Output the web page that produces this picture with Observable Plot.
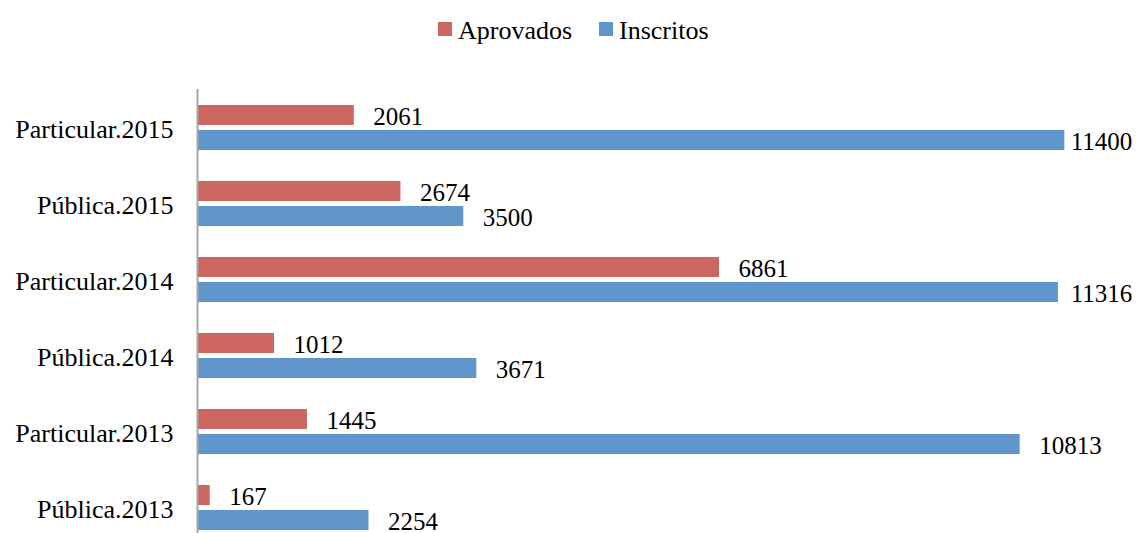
<!DOCTYPE html>
<html>
<head>
<meta charset="utf-8">
<script src="https://cdn.jsdelivr.net/npm/d3@7"></script>
<script src="https://cdn.jsdelivr.net/npm/@observablehq/plot@0.6"></script>
<style>
  html, body { margin: 0; padding: 0; background: #fff; overflow: hidden; }
  body { width: 1141px; height: 533px; font-family: "Liberation Serif", "Times New Roman", serif; }
  #legend { height: 60px; position: relative; }
  .item { position: absolute; top: 0; display: flex; align-items: center; height: 57px; font-size: 26px; color: #000; font-family: "Liberation Serif", "Times New Roman", serif; }
  .sw { width: 14px; height: 14px; margin-right: 6px; }
  .lt { position: relative; top: 2px; }
  svg { display: block; }
</style>
</head>
<body>
<div id="legend"></div>
<div id="chart"></div>
<script>
const categories = ["Particular.2015", "Pública.2015", "Particular.2014", "Pública.2014", "Particular.2013", "Pública.2013"];
const seriesNames = ["Aprovados", "Inscritos"];
const aprovados = [2061, 2674, 6861, 1012, 1445, 167];
const inscritos = [11400, 3500, 11316, 3671, 10813, 2254];
const colors = ["#CD665F", "#6096CB"];

const rows = [];
categories.forEach((c, i) => {
  rows.push({cat: c, series: seriesNames[0], value: aprovados[i]});
  rows.push({cat: c, series: seriesNames[1], value: inscritos[i]});
});

// legend
const legend = document.getElementById("legend");
const legendX = [438, 599];
seriesNames.forEach((s, i) => {
  const it = document.createElement("div");
  it.className = "item";
  it.style.left = legendX[i] + "px";
  const sw = document.createElement("span");
  sw.className = "sw";
  sw.style.background = colors[i];
  const t = document.createElement("span");
  t.className = "lt";
  t.textContent = s;
  it.appendChild(sw);
  it.appendChild(t);
  legend.appendChild(it);
});

const font = "'Liberation Serif', 'Times New Roman', serif";
const chart = Plot.plot({
  width: 1141,
  height: 485,
  marginLeft: 197,
  marginRight: 31,
  marginTop: 29,
  marginBottom: 0,
  style: {fontFamily: font, fontSize: "25px", color: "#000", background: "#fff"},
  x: {domain: [0, 12000], axis: null},
  y: {domain: seriesNames, paddingInner: 0.2, paddingOuter: 0.59, axis: null},
  fy: {domain: categories, padding: 0, axis: null},
  color: {domain: seriesNames, range: colors},
  marks: [
    Plot.axisFy({anchor: "left", label: null, tickSize: 0, tickPadding: 24, fontSize: 26, dy: 2, fill: "#000"}),
    Plot.barX(rows, {fy: "cat", y: "series", x: "value", fill: "series"}),
    Plot.ruleX([0], {stroke: "#A6A6A6", strokeWidth: 2}),
    Plot.text(rows, {
      fy: "cat", y: "series",
      x: d => Math.min(d.value, 11228),
      text: d => String(d.value),
      textAnchor: "start", dx: 19, dy: 1,
      fontSize: 25, fill: "#000"
    })
  ]
});
document.getElementById("chart").appendChild(chart);
</script>
</body>
</html>
